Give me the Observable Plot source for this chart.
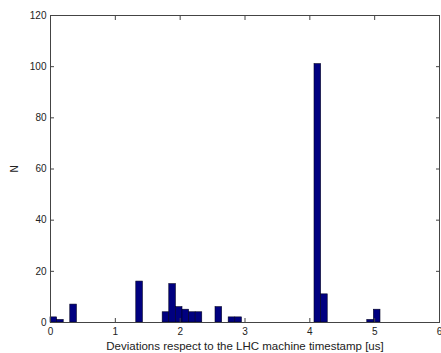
<!DOCTYPE html>
<html>
<head>
<meta charset="utf-8">
<script src="https://cdn.jsdelivr.net/npm/d3@7"></script>
<script src="https://cdn.jsdelivr.net/npm/@observablehq/plot@0.6"></script>
<style>
  html, body { margin: 0; padding: 0; background: #fff; }
</style>
</head>
<body>
<div id="chart"></div>
<script>
// Histogram bins (centers of non-empty bins, in us) and counts
const binCenters = [0.051, 0.153, 0.356, 1.374, 1.781, 1.883, 1.985, 2.087, 2.189, 2.290, 2.596, 2.799, 2.901, 4.123, 4.225, 4.937, 5.039];
const counts = [2, 1, 7, 16, 4, 15, 6, 5, 4, 4, 6, 2, 2, 101, 11, 1, 5];
const binWidth = 0.1018;
const xTicks = [0, 1, 2, 3, 4, 5, 6];
const yTicks = [0, 20, 40, 60, 80, 100, 120];
const xLabel = "Deviations respect to the LHC machine timestamp [us]";
const yLabel = "N";

const data = binCenters.map((c, i) => ({c, n: counts[i]}));

const chart = Plot.plot({
  width: 441,
  height: 353,
  marginLeft: 50,
  marginRight: 2,
  marginTop: 15,
  marginBottom: 31,
  style: {fontFamily: "Liberation Sans, Arial, sans-serif", fontSize: "10px", color: "#222", background: "#fff"},
  x: {domain: [0, 6]},
  y: {domain: [0, 120]},
  marks: [
    Plot.rect(data, {x1: d => d.c - binWidth / 2, x2: d => d.c + binWidth / 2, y1: 0, y2: "n", fill: "#000080", stroke: "#000022", strokeWidth: 0.6}),
    Plot.frame({stroke: "#444"}),
    Plot.axisX({anchor: "bottom", ticks: xTicks, tickSize: -4, tickPadding: 9, tickFormat: d => String(d), label: null, stroke: "#444"}),
    Plot.axisX({anchor: "top", ticks: xTicks, tickSize: -4, tickFormat: () => "", label: null, stroke: "#444"}),
    Plot.axisY({anchor: "left", ticks: yTicks, tickSize: -4, tickPadding: 8, tickFormat: d => String(d), label: yLabel, labelAnchor: "center", labelArrow: "none", labelOffset: 40, stroke: "#444"}),
    Plot.axisY({anchor: "right", ticks: yTicks, tickSize: -4, tickFormat: () => "", label: null, stroke: "#444"}),
    Plot.text([xLabel], {frameAnchor: "bottom", lineAnchor: "bottom", dy: 27, fontSize: 11.5, fill: "#222"})
  ]
});
document.getElementById("chart").appendChild(chart);
</script>
</body>
</html>
